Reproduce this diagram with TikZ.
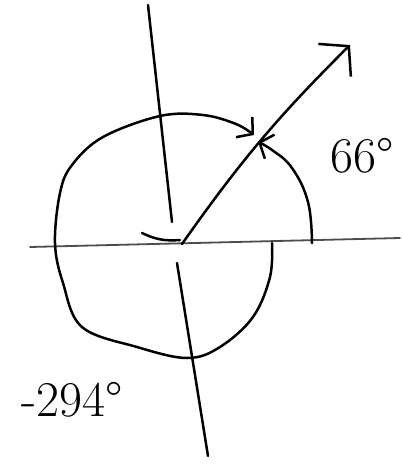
\documentclass[tikz,border=0pt]{standalone}
\usetikzlibrary{arrows.meta}
\tikzset{
    pen/.style={line width=2.5pt, line cap=round, line join=round},
    axisline/.style={pen, line width=1.8pt, black!70},
    raytip/.style={-{Straight Barb[length=20pt, width=46pt]}},
    turntip/.style={-{Straight Barb[length=11pt, width=26pt]}},
    anglelabel/.style={inner sep=0pt, font=\fontsize{50}{50}\selectfont}
}

\begin{document}
\begin{tikzpicture}[x=1pt, y=-1pt]
\useasboundingbox (0,0) rectangle (403,464);

% Axes
\coordinate (O) at (182,244);
\coordinate (xleft) at (30,247);
\coordinate (xright) at (400,238);
\coordinate (ytop) at (148,5);
\coordinate (ygapup) at (172,222);
\coordinate (ygapdown) at (177,263);
\coordinate (ybottom) at (208,456);
\draw [axisline] (xleft) -- (xright);
\draw [pen] (ytop) -- (ygapup);
\draw [pen] (ygapdown) -- (ybottom);

% Terminal side
\coordinate (raytip) at (350,45);
\draw [pen, raytip] (O) to[bend left=5] (raytip);

% Positive turn
\draw [pen, turntip] plot[smooth, tension=0.7] coordinates {(312,243) (308,202) (292,168) (272,150) (258,142)};

% Negative turn
\coordinate (hookstart) at (142,233);
\coordinate (hookend) at (180,240);
\draw [pen] (hookstart) to[bend right=15] (hookend);
\draw [pen, turntip] plot[smooth, tension=0.6] coordinates {(272,243) (270,277) (253,317) (220,347) (187,358) (137,347) (82,327) (63,283) (55,243) (60,193) (72,165) (103,137) (160,116) (203,115) (236,124) (254,135)};

% Labels
\node (pos) [anglelabel] at (362,156) {66°};
\node (neg) [anglelabel] at (72,400) {-294°};

\end{tikzpicture}
\end{document}
